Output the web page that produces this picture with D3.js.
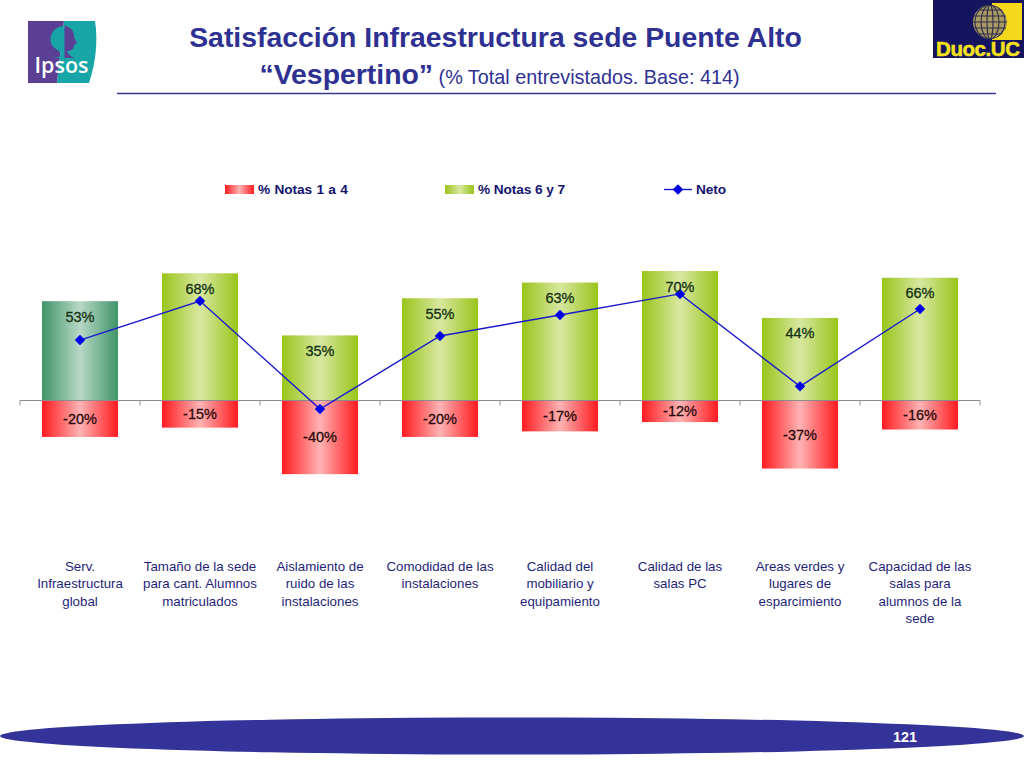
<!DOCTYPE html>
<html>
<head>
<meta charset="utf-8">
<script src="https://cdnjs.cloudflare.com/ajax/libs/d3/7.8.5/d3.min.js"></script>
<style>
  html, body { margin: 0; padding: 0; background: #fff; }
  svg { display: block; font-family: "Liberation Sans", Arial, sans-serif; }
</style>
</head>
<body>
<svg id="chart" width="1024" height="768"></svg>
<script>
const categories = [
  "Serv. Infraestructura global",
  "Tamaño de la sede para cant. Alumnos matriculados",
  "Aislamiento de ruido de las instalaciones",
  "Comodidad de las instalaciones",
  "Calidad del mobiliario y equipamiento",
  "Calidad de las salas PC",
  "Areas verdes y lugares de esparcimiento",
  "Capacidad de las salas para alumnos de la sede"
];
const categoryLines = [
  ["Serv.", "Infraestructura", "global"],
  ["Tamaño de la sede", "para cant. Alumnos", "matriculados"],
  ["Aislamiento de", "ruido de las", "instalaciones"],
  ["Comodidad de las", "instalaciones"],
  ["Calidad del", "mobiliario y", "equipamiento"],
  ["Calidad de las", "salas PC"],
  ["Areas verdes y", "lugares de", "esparcimiento"],
  ["Capacidad de las", "salas para", "alumnos de la", "sede"]
];
// the labels show them rounded
const notas14 = [-19.6, -14.6, -39.6, -19.6, -16.6, -11.6, -36.6, -15.6];
const notas67 = [53.4, 68.4, 35, 55, 63.4, 69.6, 44.4, 66];
const neto = [32.5, 53.5, -4.6, 34.7, 46, 57.3, 7.6, 49.2];
const legendLabels = ["% Notas 1 a 4", "% Notas 6 y 7", "Neto"];

const svg = d3.select("#chart");
const navy = "#2e3192";
const textNavy = "#14146e";
const pct = d => Math.round(d) + "%";

const x = d3.scaleBand().domain(categories).range([20, 980]).paddingInner(0.367).paddingOuter(0.1835);
const y = d3.scaleLinear().domain([-40, 70]).range([474.9, 270.3]);

// gradients for the bars
const defs = svg.append("defs");
function hGradient(id, edge, mid) {
  const g = defs.append("linearGradient").attr("id", id);
  g.append("stop").attr("offset", "0%").attr("stop-color", edge);
  g.append("stop").attr("offset", "50%").attr("stop-color", mid);
  g.append("stop").attr("offset", "100%").attr("stop-color", edge);
}
hGradient("red", "#ff1a1f", "#ffb3b3");
hGradient("green", "#99c41a", "#d8e8a0");
hGradient("teal", "#3f9468", "#b8d8c6");

// positive bars
svg.append("g").selectAll("rect").data(notas67).join("rect")
  .attr("x", (d, i) => x(categories[i]))
  .attr("y", d => y(d))
  .attr("width", x.bandwidth())
  .attr("height", d => y(0) - y(d))
  .attr("fill", (d, i) => i === 0 ? "url(#teal)" : "url(#green)");

// negative bars
svg.append("g").selectAll("rect").data(notas14).join("rect")
  .attr("x", (d, i) => x(categories[i]))
  .attr("y", y(0))
  .attr("width", x.bandwidth())
  .attr("height", d => y(d) - y(0))
  .attr("fill", "url(#red)");

// zero axis with ticks between the categories
const axisG = svg.append("g").attr("stroke", "#8c8c8c").attr("stroke-width", 1);
axisG.append("line").attr("x1", x.range()[0]).attr("x2", x.range()[1]).attr("y1", y(0)).attr("y2", y(0));
axisG.selectAll(".tick").data(d3.range(categories.length + 1)).join("line")
  .attr("class", "tick")
  .attr("x1", i => x.range()[0] + i * x.step())
  .attr("x2", i => x.range()[0] + i * x.step())
  .attr("y1", y(0))
  .attr("y2", y(0) + 5);

// neto line
const cx = i => x(categories[i]) + x.bandwidth() / 2;
const line = d3.line().x((d, i) => cx(i)).y(d => y(d));
svg.append("path").datum(neto)
  .attr("d", line)
  .attr("fill", "none")
  .attr("stroke", "#1a1acc")
  .attr("stroke-width", 1.4);
svg.append("g").selectAll("rect").data(neto).join("rect")
  .attr("x", -3.7).attr("y", -3.7).attr("width", 7.4).attr("height", 7.4)
  .attr("transform", (d, i) => `translate(${cx(i)},${y(d)}) rotate(45)`)
  .attr("fill", "#0000e6");

// value labels
svg.append("g").selectAll("text").data(notas67).join("text")
  .attr("x", (d, i) => cx(i))
  .attr("y", d => y(d) + 20.5)
  .attr("text-anchor", "middle")
  .attr("font-size", 14.5)
  .attr("fill", "#143214")
  .attr("stroke", "#143214").attr("stroke-width", 0.3)
  .text(pct);
svg.append("g").selectAll("text").data(notas14).join("text")
  .attr("x", (d, i) => cx(i))
  .attr("y", d => (y(d) + y(0)) / 2 + 5)
  .attr("text-anchor", "middle")
  .attr("font-size", 14.5)
  .attr("fill", "#2a0a0a")
  .attr("stroke", "#2a0a0a").attr("stroke-width", 0.3)
  .text(pct);

// category labels
const catG = svg.append("g").selectAll("text").data(categoryLines).join("text")
  .attr("text-anchor", "middle")
  .attr("font-size", 13.3)
  .attr("fill", "#1f1f78");
catG.selectAll("tspan").data((d, i) => d.map(t => ({ t, i }))).join("tspan")
  .attr("x", d => cx(d.i))
  .attr("y", (d, j) => 571 + j * 17.4)
  .text(d => d.t);

// legend
const legend = svg.append("g").attr("font-size", 13.7).attr("font-weight", "bold").attr("fill", textNavy).attr("letter-spacing", -0.1);
legend.append("rect").attr("x", 225).attr("y", 185).attr("width", 29).attr("height", 9).attr("fill", "url(#red)");
legend.append("text").attr("x", 258).attr("y", 194).attr("word-spacing", 0.7).text(legendLabels[0]);
legend.append("rect").attr("x", 445).attr("y", 185).attr("width", 29).attr("height", 9).attr("fill", "url(#green)");
legend.append("text").attr("x", 478).attr("y", 194).text(legendLabels[1]);
legend.append("line").attr("x1", 664).attr("x2", 692).attr("y1", 189.5).attr("y2", 189.5).attr("stroke", "#1a1acc").attr("stroke-width", 1.4);
legend.append("rect").attr("x", -3.7).attr("y", -3.7).attr("width", 7.4).attr("height", 7.4)
  .attr("transform", "translate(678,189.5) rotate(45)").attr("fill", "#0000e6");
legend.append("text").attr("x", 696).attr("y", 194).text(legendLabels[2]);

// title
const title = svg.append("g").attr("text-anchor", "middle").attr("fill", navy);
title.append("text").attr("x", 495.5).attr("y", 47).attr("font-size", 28.4).attr("font-weight", "bold")
  .text("Satisfacción Infraestructura sede Puente Alto");
const t2 = title.append("text").attr("x", 499.5).attr("y", 84);
t2.append("tspan").attr("font-size", 28.4).attr("font-weight", "bold").text("“Vespertino”");
t2.append("tspan").attr("font-size", 19.8).text(" (% Total entrevistados. Base: 414)");
svg.append("line").attr("x1", 117).attr("x2", 996).attr("y1", 93.5).attr("y2", 93.5).attr("stroke", "#3a3a8c").attr("stroke-width", 1.3);

// footer ellipse
svg.append("ellipse").attr("cx", 512).attr("cy", 736).attr("rx", 512).attr("ry", 18.5).attr("fill", "#333399");
svg.append("text").attr("x", 905).attr("y", 742).attr("text-anchor", "middle")
  .attr("font-size", 15).attr("font-weight", "bold").attr("fill", "#fff").attr("textLength", 24).attr("lengthAdjust", "spacingAndGlyphs").text("121");

// Ipsos logo
const ipsos = svg.append("g");
ipsos.append("path").attr("d", "M28 21H64L57 83H28Z").attr("fill", "#5a3f95");
ipsos.append("path").attr("d", "M64 21H95C98 40 96 62 89 83H57Z").attr("fill", "#17a5a8");
ipsos.append("path").attr("d", "M64.5 26C54 26 49 35 51 43C53 49 60 50 62 55C60 57 56 58 52 58H64.5Z").attr("fill", "#17a5a8");
ipsos.append("path").attr("d", "M64.5 26C72 27 74 32 74 37L77 43L74 45C74 49 71 51 67 51C68 54 71 57 75 58H64.5Z").attr("fill", "#5a3f95");
ipsos.append("text").attr("x", 61.5).attr("y", 73).attr("text-anchor", "middle")
  .attr("font-family", "'Open Sans', sans-serif").attr("font-size", 21.5).attr("font-weight", "600").attr("fill", "#fff").text("Ipsos");

// Duoc UC logo
const duoc = svg.append("g");
duoc.append("rect").attr("x", 933).attr("y", 0).attr("width", 91).attr("height", 58).attr("fill", "#14145f");
duoc.append("rect").attr("x", 992).attr("y", 3).attr("width", 30).attr("height", 37).attr("fill", "#f6d81a");
defs.append("clipPath").attr("id", "globe").append("circle").attr("cx", 990).attr("cy", 22).attr("r", 17);
duoc.append("circle").attr("cx", 990).attr("cy", 22).attr("r", 17).attr("fill", "#a89a62");
const globeGrid = duoc.append("g").attr("clip-path", "url(#globe)").attr("stroke", "#2d2d4a").attr("stroke-width", 1.1).attr("fill", "none");
globeGrid.selectAll(".lat").data(d3.range(-12, 13, 6)).join("line").attr("class", "lat")
  .attr("x1", 973).attr("x2", 1007).attr("y1", d => 22 + d).attr("y2", d => 22 + d);
globeGrid.selectAll(".lon").data([3, 9, 15]).join("ellipse").attr("class", "lon")
  .attr("cx", 990).attr("cy", 22).attr("rx", d => d).attr("ry", 17);
duoc.append("text").attr("x", 936).attr("y", 56).attr("font-size", 20.5).attr("font-weight", "bold").attr("fill", "#f6e21a")
  .attr("stroke", "#f6e21a").attr("stroke-width", 0.5)
  .attr("textLength", 84).attr("lengthAdjust", "spacing").text("Duoc.UC");
</script>
</body>
</html>
